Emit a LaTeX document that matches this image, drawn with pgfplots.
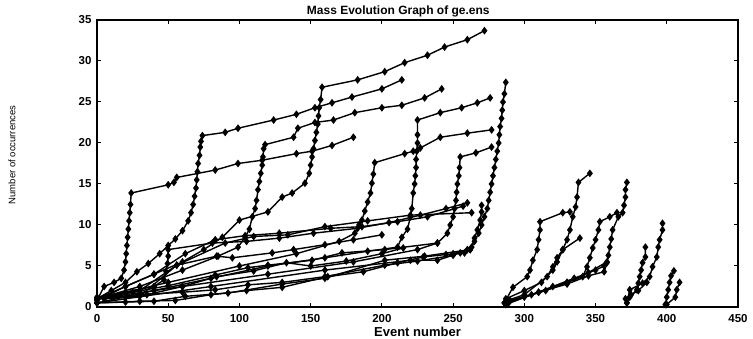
\documentclass[border=0pt]{standalone}
\usepackage{pgfplots}
\pgfplotsset{compat=1.18}
\usepackage{fontspec}
\setmainfont{Liberation Sans}
\begin{document}
\begin{tikzpicture}
\useasboundingbox (-97pt,-32pt) rectangle (656pt,307pt);
\begin{axis}[
  scale only axis, width=641pt, height=287pt,
  xmin=0, xmax=450, ymin=0, ymax=35,
  xtick={0,50,...,450}, ytick={0,5,...,35},
  tick align=inside, major tick length=4pt,
  axis line style={line width=1.3pt},
  every tick/.style={black, line width=1pt},
  /pgf/number format/assume math mode=true,
  ticklabel style={font=\bfseries\fontsize{11.5}{13}\selectfont},
  yticklabel style={xshift=-2pt},
  xticklabel style={yshift=-4pt},
  title={Mass Evolution Graph of ge.ens},
  title style={font=\bfseries\fontsize{12}{14}\selectfont, at={(rel axis cs:0.47,1)}, anchor=base, yshift=-1pt},
  xlabel={Event number},
  xlabel style={font=\bfseries\fontsize{13}{15}\selectfont, at={(rel axis cs:0.5,0)}, anchor=base, yshift=-30pt},
  ylabel={Number of occurrences},
  ylabel style={font=\fontsize{9.5}{11}\selectfont, at={(axis description cs:-0.1326,0.53)}, anchor=center},
  cycle list={black,mark=diamond*\\},
  every axis plot/.append style={line width=1.4pt, mark size=2.8pt, mark options={solid}},
  clip=false,
]
% ---------- main cluster, upper series
\addplot coordinates {(0,0.8)(5,2.5)(12,3)(17,3.5)(19,4.5)(20,5.5)(20.5,6.5)(21,7.5)(21.5,8.5)(22,9.5)(22.5,10.5)(23,11.5)(23.5,12.5)(24,13.9)(50,14.9)(54,15.2)(56,15.8)(83,16.7)(99,17.5)(116,17.9)(140,18.7)(151,19)(165,19.7)(180,20.7)};
\addplot coordinates {(0,1)(10,2)(20,3)(28,4.3)(36,5.3)(44,6.5)(50,7.5)(55,8.3)(60,9.3)(64,10.5)(66,11.5)(67.5,12.5)(68.5,13.5)(69.5,14.5)(70,15.5)(70.5,16.5)(71,17.5)(72,18.5)(72.5,19.5)(73,20.2)(74,20.9)(90,21.3)(99,21.8)(124,22.8)(140,23.5)(153,24.3)(165,24.9)(179,25.6)(200,26.6)(214,27.7)};
\addplot coordinates {(0,0.8)(20,2.5)(40,4)(60,5.5)(75,7)(88,8.5)(100,10.6)(120,11.6)(130,13.4)(137,13.9)(146,15.1)(149,16.3)(150,17.3)(151,18.3)(152,19.3)(153,20.3)(154,21.3)(155,22.3)(155.5,23.3)(156,24.3)(157,25.3)(158,26.8)(183,27.7)(202,28.7)(216,29.8)(232,30.7)(244,31.7)(260,32.6)(272,33.7)};
\addplot coordinates {(0,1)(30,2.5)(60,4.5)(85,6.2)(99,7.3)(104,8.5)(107,9.5)(109,11)(111,12)(112,13)(113,14.3)(114,15.3)(115,16.3)(116,17.3)(116.5,18.3)(117,19.3)(118,19.8)(138,20.7)(141,21.8)(153,22.5)(166,22.8)(181,23.7)(200,24.3)(214,24.6)(230,25.5)(242,26.6)};
\addplot coordinates {(0,0.5)(40,2)(80,3.5)(120,5)(160,6)(190,6.8)(211,7.3)(214,8.5)(218,9.5)(220,11)(221,12)(222,13.9)(223,15)(223.5,16)(224,17)(224,18)(224.5,19)(225,20)(225,21)(225,22.8)(241,23.7)(256,24.3)(267,24.9)(276,25.5)};
\addplot coordinates {(0,1)(50,3)(100,5)(140,6.5)(170,8)(181,9)(184,10)(186,10.6)(188,11.7)(190,12.8)(192,13.9)(193,15.1)(194,16.2)(195,17.6)(216,18.7)(222,19)(227,19.4)(241,20.7)(260,21.2)(277,21.6)};
\addplot coordinates {(0,1)(60,2.5)(120,4)(180,5.5)(225,7)(239,7.8)(246,9)(248,10)(250,11)(251,12)(252,13)(252.5,14)(253,15)(254,16)(254.5,17)(255,18.3)(266,18.8)(277,19.5)};
\addplot coordinates {(250,6.5)(262,7)(265,8)(268,9)(270,10)(272,11)(274,12)(275,13)(276,14)(277,15)(278,16)(279,17)(280,18)(281,19)(282,20)(282.5,21)(283,22)(284,23)(284.5,24)(285,25)(286,26)(287,27.4)};
\addplot coordinates {(0,0.5)(80,2.5)(160,4.5)(220,5.7)(239,5.7)(255,6.6)(260,7)(263,7.3)(265,8.4)(267,9.4)(269,10.6)(270,11.6)(270,12.4)};
% ---------- main cluster, lower fan
\addplot coordinates {(0,1)(20,2.5)(40,4)(62,6.5)(83,8.2)(104,8.7)(128,9)(164,9.6)(186,9.8)(211,10.4)(232,11)(257,12.3)};
\addplot coordinates {(0,1)(20,1.8)(40,2.5)(47,3.3)(48.5,4.3)(49.5,5.3)(50,6.2)(50,7)(81,7.8)(105,8)(128,8.4)(152,9)(183,9.6)(205,10.3)(227,11.2)(245,12)(260,12.7)};
\addplot coordinates {(0,0.5)(30,0.7)(55,0.8)(80,1.5)(105,2)(130,2.4)(162,3.7)(187,4.3)(211,5.4)(229,6.1)(245,6.4)(258,6.6)};
\addplot coordinates {(0,0.5)(20,0.6)(40,0.7)(62,1.3)(92,1.7)(130,2.8)(160,3.5)(202,5.7)(230,6.2)(262,7)};
\addplot coordinates {(0,1)(30,1.5)(60,1.8)(83,2.1)(106,2.7)(130,3)(160,3.7)(202,5.1)(225,5.6)(250,6.3)};
\addplot coordinates {(0,1)(25,1.8)(50,2.6)(83,3.9)(106,4.8)(120,5.1)(151,5.7)(172,6.6)(202,7)(239,7.8)};
\addplot coordinates {(0,1.2)(30,2)(56,5.1)(84,6.2)(95,6)(123,6.6)(138,7)(160,7.6)(180,8.2)(200,8.8)};
\addplot coordinates {(0,1)(20,1.2)(35,1.5)(60,2.5)(84,3.7)(110,4.4)(133,5.4)(150,5)(175,5.6)(200,6.5)(215,7.2)};
\addplot coordinates {(5,1)(30,1.3)(56,5.1)(90,7.8)(110,8.6)(134,8.8)(160,9.8)(190,10.5)(220,11.2)(263,11.5)};
% ---------- cluster at 285--375
\addplot coordinates {(286,0.5)(292,2.4)(302,3.7)(304,4.5)(306,5.7)(309,7)(310,8.2)(311,9.4)(311,10.4)(327,11.5)(332,11.6)};
\addplot coordinates {(288,0.8)(300,1.5)(316,3.7)(320,4.9)(323,6)(327,7)(330,8.2)(332,9.4)(334,11)(336,12.2)(337,13.4)(338,15.2)(346,16.3)};
\addplot coordinates {(287,1)(300,2)(312,3)(320,4.5)(323,5.5)(327,7)(339,8.4)};
\addplot coordinates {(289,0.5)(310,1.8)(330,3)(341,3.7)(344,4.9)(346,6)(348,7.2)(350,8.2)(352,9.4)(353,10.4)(360,11)(365,11.5)};
\addplot coordinates {(290,0.8)(310,1.8)(330,2.8)(345,3.8)(356,4.3)(358,5.4)(359,6.3)(360,7.3)(361,8.3)(362,9.4)(366,11)(369,11.5)(370,12.4)(371,13.4)(371,14.3)(372,15.2)};
\addplot coordinates {(286,0.5)(300,1.2)(315,2)(330,3)(345,4.2)(358,5.5)};
\addplot coordinates {(287,0.3)(305,1.5)(320,2.5)(335,3.5)(350,4.5)(356,5)};
% ---------- cluster at 370--400
\addplot coordinates {(372,0.5)(374,1.2)(379,2.1)(380,2.9)(381,3.7)(382,4.5)(383,5.4)(385,6.1)(385,7.3)};
\addplot coordinates {(372,0.5)(374,2.1)(383,2.9)(388,3.7)(390,4.9)(393,6.1)(394,7.3)(395,8.2)(397,9.4)(397,10.2)};
\addplot coordinates {(371,1)(375,1.5)(380,2)(386,3)};
% ---------- cluster at 400--410
\addplot coordinates {(399,0.3)(400,1.2)(401,2.1)(402,3)(403,3.8)(405,4.4)};
\addplot coordinates {(400,0.3)(406,1.2)(407,2.1)(409,3)};
\end{axis}
\end{tikzpicture}
\end{document}
